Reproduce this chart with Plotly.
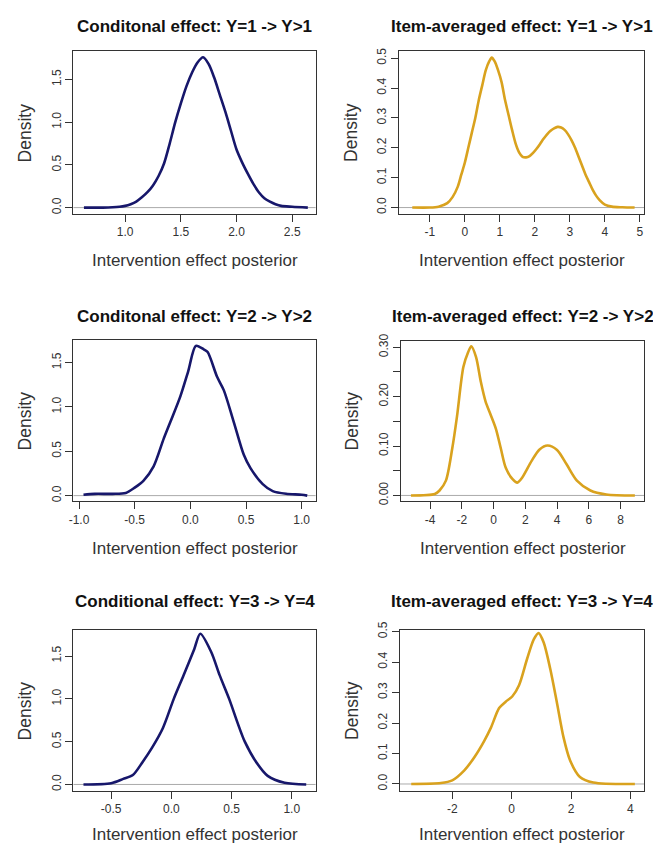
import plotly.graph_objects as go

W, H = 653, 852

# ---------------- data ----------------
c1_x = [0.63, 0.80, 0.95, 1.00, 1.05, 1.10, 1.15, 1.20, 1.25, 1.30, 1.35, 1.40, 1.45, 1.50, 1.55, 1.60, 1.65, 1.70,
        1.75, 1.80, 1.85, 1.90, 1.95, 2.00, 2.05, 2.10, 2.15, 2.20, 2.25, 2.30, 2.35, 2.40, 2.50, 2.64]
c1_y = [0.00, 0.00, 0.01, 0.02, 0.04, 0.07, 0.12, 0.18, 0.26, 0.37, 0.52, 0.75, 1.00, 1.22, 1.42, 1.58, 1.70, 1.76,
        1.68, 1.52, 1.32, 1.12, 0.90, 0.68, 0.53, 0.40, 0.28, 0.18, 0.11, 0.07, 0.04, 0.02, 0.01, 0.00]

i1_x = [-1.5, -1.0, -0.75, -0.5, -0.35, -0.2, -0.1, 0.0, 0.1, 0.2, 0.3, 0.4, 0.5, 0.6, 0.7, 0.77, 0.85, 0.95, 1.05,
        1.15, 1.25, 1.35, 1.45, 1.55, 1.65, 1.75, 1.85, 1.95, 2.05, 2.15, 2.25, 2.35, 2.45, 2.55, 2.65, 2.75, 2.85,
        2.95, 3.05, 3.15, 3.25, 3.35, 3.45, 3.55, 3.65, 3.75, 3.85, 4.0, 4.2, 4.5, 4.85]
i1_y = [0.0, 0.0, 0.003, 0.015, 0.035, 0.07, 0.11, 0.15, 0.2, 0.25, 0.3, 0.36, 0.41, 0.46, 0.49, 0.502, 0.49, 0.46,
        0.42, 0.36, 0.31, 0.26, 0.215, 0.185, 0.17, 0.168, 0.172, 0.183, 0.197, 0.213, 0.23, 0.245, 0.257, 0.265,
        0.27, 0.268, 0.26, 0.245, 0.225, 0.2, 0.17, 0.14, 0.11, 0.085, 0.06, 0.04, 0.025, 0.01, 0.003, 0.001, 0.0]

c2_x = [-0.96, -0.86, -0.70, -0.58, -0.50, -0.42, -0.33, -0.24, -0.18, -0.09, -0.02, 0.05, 0.12, 0.155, 0.24, 0.30,
        0.39, 0.48, 0.54, 0.65, 0.74, 0.86, 1.00, 1.05]
c2_y = [0.01, 0.02, 0.02, 0.03, 0.09, 0.17, 0.33, 0.64, 0.83, 1.12, 1.40, 1.69, 1.65, 1.62, 1.34, 1.19, 0.83, 0.46,
        0.31, 0.13, 0.05, 0.02, 0.01, 0.0]

i2_x = [-5.2, -3.7, -3.4, -3.0, -2.6, -2.3, -1.9, -1.6, -1.4, -1.1, -0.8, -0.5, -0.2, 0.15, 0.46, 0.77, 1.2, 1.5,
        1.8, 2.4, 2.9, 3.4, 4.0, 4.6, 5.25, 6.1, 7.1, 8.9]
i2_y = [0.0, 0.003, 0.01, 0.03, 0.095, 0.16, 0.26, 0.29, 0.302, 0.28, 0.23, 0.19, 0.165, 0.135, 0.095, 0.056, 0.033,
        0.026, 0.036, 0.07, 0.093, 0.101, 0.092, 0.063, 0.03, 0.01, 0.002, 0.0]

c3_x = [-0.73, -0.50, -0.40, -0.32, -0.24, -0.16, -0.07, 0.02, 0.10, 0.19, 0.24, 0.33, 0.40, 0.48, 0.55, 0.61,
        0.71, 0.80, 0.94, 1.12]
c3_y = [0.0, 0.015, 0.065, 0.11, 0.26, 0.43, 0.66, 1.0, 1.27, 1.58, 1.76, 1.55, 1.28, 1.0, 0.72, 0.50, 0.25, 0.10,
        0.02, 0.0]

i3_x = [-3.38, -2.38, -2.0, -1.6, -1.26, -0.93, -0.7, -0.42, -0.2, 0.02, 0.25, 0.52, 0.75, 0.91, 1.08, 1.3, 1.52,
        1.75, 1.97, 2.3, 2.75, 4.15]
i3_y = [0.0, 0.003, 0.012, 0.044, 0.087, 0.14, 0.184, 0.249, 0.27, 0.287, 0.324, 0.41, 0.475, 0.495, 0.464, 0.378,
        0.27, 0.152, 0.077, 0.023, 0.005, 0.0]

titles = ["Conditonal effect: Y=1 -> Y>1", "Item-averaged effect: Y=1 -> Y>1",
          "Conditonal effect: Y=2 -> Y>2", "Item-averaged effect: Y=2 -> Y>2",
          "Conditional effect: Y=3 -> Y=4", "Item-averaged effect: Y=3 -> Y=4"]

xticks = [[1.0, 1.5, 2.0, 2.5], [-1, 0, 1, 2, 3, 4, 5], [-1.0, -0.5, 0.0, 0.5, 1.0],
          [-4, -2, 0, 2, 4, 6, 8], [-0.5, 0.0, 0.5, 1.0], [-2, 0, 2, 4]]
xticktext = [["1.0", "1.5", "2.0", "2.5"], ["-1", "0", "1", "2", "3", "4", "5"],
             ["-1.0", "-0.5", "0.0", "0.5", "1.0"], ["-4", "-2", "0", "2", "4", "6", "8"],
             ["-0.5", "0.0", "0.5", "1.0"], ["-2", "0", "2", "4"]]
yticks = [[0, 0.5, 1.0, 1.5], [0, 0.1, 0.2, 0.3, 0.4, 0.5], [0, 0.5, 1.0, 1.5],
          [0, 0.05, 0.10, 0.15, 0.20, 0.25, 0.30], [0, 0.5, 1.0, 1.5], [0, 0.1, 0.2, 0.3, 0.4, 0.5]]
yticktext = [["0.0", "0.5", "1.0", "1.5"], ["0.0", "0.1", "0.2", "0.3", "0.4", "0.5"],
             ["0.0", "0.5", "1.0", "1.5"], ["0.00", "", "0.10", "", "0.20", "", "0.30"],
             ["0.0", "0.5", "1.0", "1.5"], ["0.0", "0.1", "0.2", "0.3", "0.4", "0.5"]]

series = [(c1_x, c1_y), (i1_x, i1_y), (c2_x, c2_y), (i2_x, i2_y), (c3_x, c3_y), (i3_x, i3_y)]

# ---------------- layout geometry ----------------
boxes = [(69, 313, 43, 208), (397, 644, 43, 208),
         (69, 313, 336, 500), (399, 644, 337, 500),
         (69, 313, 631, 794), (398, 644, 631, 794)]
xranges = [[0.536, 2.71], [-1.88, 5.12], [-1.05, 1.125], [-5.83, 9.48], [-0.813, 1.198], [-3.76, 4.46]]
yranges = [[-0.073, 1.83], [-0.021, 0.523], [-0.065, 1.757], [-0.012, 0.313], [-0.075, 1.80], [-0.0226, 0.504]]
title_y = [18, 18, 312, 312, 602, 602]
xlab_y = [255, 255, 548, 548, 838, 838]

NAVY = "#17176b"
GOLD = "#D9A21E"
colors = [NAVY, GOLD, NAVY, GOLD, NAVY, GOLD]

fig = go.Figure()
layout = dict(width=W, height=H, margin=dict(l=0, r=0, t=0, b=0), showlegend=False,
              plot_bgcolor="white", paper_bgcolor="white",
              font=dict(family="Liberation Sans, Arial, sans-serif", color="#222"))
annotations = []
shapes = []
for i in range(6):
    k = "" if i == 0 else str(i + 1)
    x0, x1, y0, y1 = boxes[i]
    xs, ys = series[i]
    fig.add_trace(go.Scatter(x=xs, y=ys, mode="lines", xaxis="x" + k, yaxis="y" + k,
                             line=dict(color=colors[i], width=2.6, shape="spline", smoothing=0.8)))
    layout["xaxis" + k] = dict(domain=[x0 / W, x1 / W], anchor="y" + k, range=xranges[i],
                               tickmode="array", tickvals=xticks[i], ticktext=xticktext[i],
                               ticks="outside", ticklen=7, tickcolor="#333", tickwidth=1,
                               showline=True, linecolor="#333", linewidth=1, mirror=True,
                               showgrid=False, zeroline=False, tickfont=dict(size=12, color="#333"))
    layout["yaxis" + k] = dict(domain=[1 - y1 / H, 1 - y0 / H], anchor="x" + k, range=yranges[i],
                               tickmode="array", tickvals=yticks[i], ticktext=yticktext[i],
                               ticks="outside", ticklen=7, tickcolor="#333", tickwidth=1, tickangle=-90,
                               showline=True, linecolor="#333", linewidth=1, mirror=True,
                               showgrid=False, zeroline=False, tickfont=dict(size=12, color="#333"))
    shapes.append(dict(type="line", xref="x" + k + " domain", yref="y" + k, x0=0, x1=1, y0=0, y1=0,
                       line=dict(color="#aaaaaa", width=1), layer="below"))
    cx = (x0 + x1) / 2 / W
    annotations.append(dict(text="<b>" + titles[i] + "</b>", x=cx, y=1 - title_y[i] / H, xref="paper",
                            yref="paper", showarrow=False, xanchor="center", yanchor="middle",
                            font=dict(size=17, color="#111")))
    annotations.append(dict(text="Intervention effect posterior", x=cx, y=1 - xlab_y[i] / H, xref="paper",
                            yref="paper", showarrow=False, xanchor="center", yanchor="middle",
                            font=dict(size=17, color="#333")))
    annotations.append(dict(text="Density", x=(x0 - 49) / W, y=1 - ((y0 + y1) / 2) / H, xref="paper",
                            yref="paper", showarrow=False, xanchor="center", yanchor="middle", textangle=-90,
                            font=dict(size=17.5, color="#333")))

layout["annotations"] = annotations
layout["shapes"] = shapes
fig.update_layout(**layout)
fig.write_html("out.html")
